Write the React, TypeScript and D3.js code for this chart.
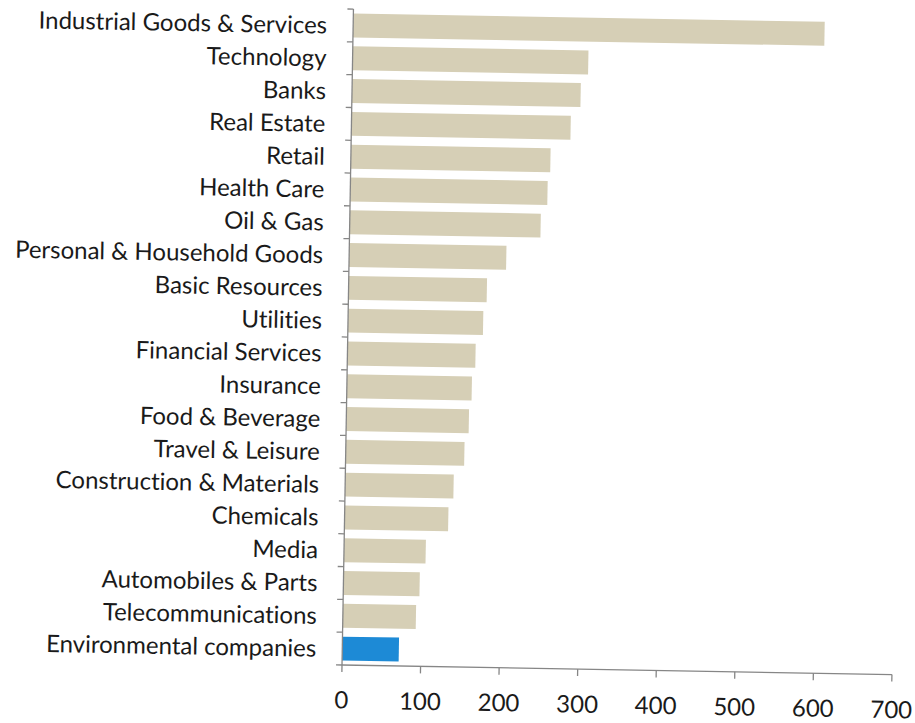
import React from "react";
import * as d3 from "d3";

const categories = [
  "Industrial Goods & Services",
  "Technology",
  "Banks",
  "Real Estate",
  "Retail",
  "Health Care",
  "Oil & Gas",
  "Personal & Household Goods",
  "Basic Resources",
  "Utilities",
  "Financial Services",
  "Insurance",
  "Food & Beverage",
  "Travel & Leisure",
  "Construction & Materials",
  "Chemicals",
  "Media",
  "Automobiles & Parts",
  "Telecommunications",
  "Environmental companies",
];
const values = [600, 300, 291, 279, 254, 251, 243, 200, 176, 172, 163, 159, 156, 151, 138, 132, 104, 97, 93, 72];
const highlighted = ["Environmental companies"];
const xTicks = [0, 100, 200, 300, 400, 500, 600, 700];

const W = 915;
const H = 723;
const originX = 342;
const originY = 665;
const plotW = 550;
const plotH = 656;
const angle = 1.0;

export default function App() {
  const x = d3.scaleLinear().domain([0, 700]).range([0, plotW]);
  const y = d3.scaleBand<string>().domain(categories).range([-plotH, 0]).paddingInner(0.27).paddingOuter(0.135);
  const step = plotH / categories.length;
  const font = "Lato, 'Open Sans', sans-serif";
  const axisColor = "#868686";
  const textStyle = { fontVariantLigatures: "none" as const, fontFeatureSettings: "'liga' 0, 'clig' 0" };
  return (
    <svg width={W} height={H} style={{ position: "absolute", left: 0, top: 0, background: "#fff" }}>
      <g transform={`translate(${originX},${originY}) rotate(${angle})`}>
        {categories.map((c, i) => (
          <rect
            key={c}
            x={0}
            y={y(c)!}
            width={x(values[i])}
            height={y.bandwidth()}
            fill={highlighted.includes(c) ? "#1d8ad6" : "#d6cfb6"}
          />
        ))}
        <line x1={0} x2={0} y1={-plotH} y2={0} stroke={axisColor} strokeWidth={1.3} />
        {d3.range(categories.length + 1).map((i) => (
          <line key={i} x1={-6} x2={0} y1={-plotH + i * step} y2={-plotH + i * step} stroke={axisColor} strokeWidth={1.3} />
        ))}
        <line x1={0} x2={plotW} y1={0} y2={0} stroke={axisColor} strokeWidth={1.3} />
        {xTicks.map((t) => (
          <g key={t} transform={`translate(${x(t)},0)`}>
            <line y1={0} y2={7} stroke={axisColor} strokeWidth={1.3} />
            <text y={34} textAnchor="middle" dominantBaseline="central" fontFamily={font} fontSize={24} fill="#1a1a1a" style={textStyle}>
              {t}
            </text>
          </g>
        ))}
        {categories.map((c) => (
          <text
            key={c}
            x={-26}
            y={y(c)! + y.bandwidth() / 2 - 1}
            textAnchor="end"
            dominantBaseline="central"
            fontFamily={font}
            fontSize={24}
            fill="#1a1a1a"
            style={textStyle}
          >
            {c}
          </text>
        ))}
      </g>
    </svg>
  );
}
